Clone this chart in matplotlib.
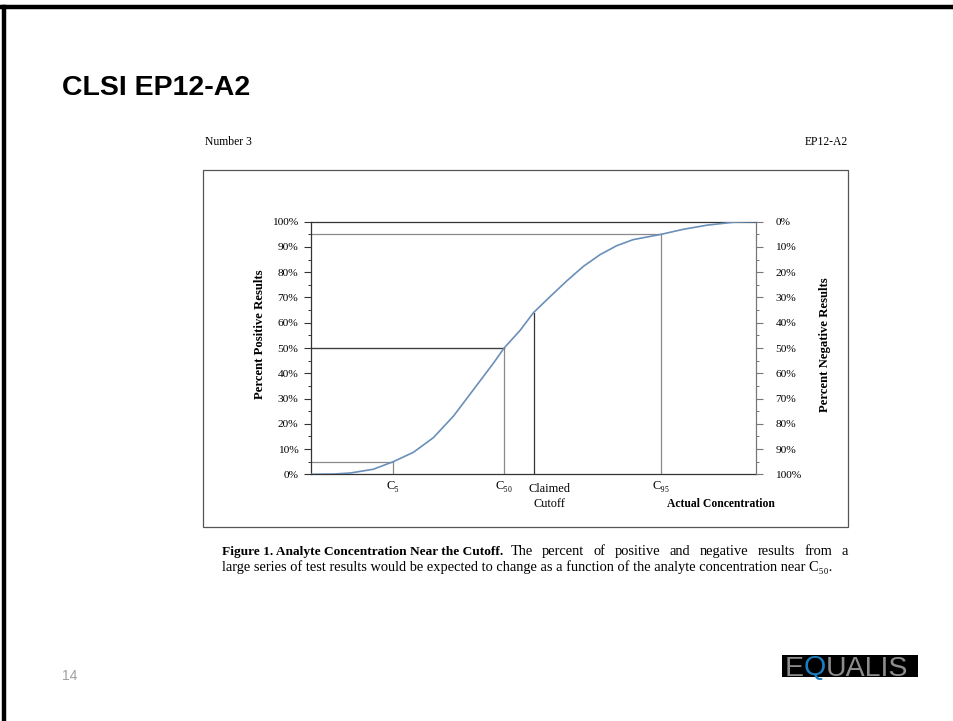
import matplotlib
matplotlib.use('Agg')
import matplotlib.pyplot as plt
from matplotlib.patches import Rectangle
from matplotlib.lines import Line2D
from matplotlib.ticker import MultipleLocator

# dose-response curve read along the concentration axis (0-100 arbitrary units)
conc = [0, 5.0, 8.8, 14.0, 18.5, 23.0, 27.5, 32.0, 36.5, 41.0, 43.4, 47.0, 50.0,
        53.7, 57.5, 61.2, 65.0, 68.7, 72.4, 78.7, 83.7, 88.9, 94.9, 100]
pct_pos = [0, 0.1, 0.5, 2, 5, 8.7, 14.5, 23, 33.5, 44, 50, 57, 64,
           70.3, 76.6, 82.3, 87.0, 90.5, 92.9, 95, 97, 98.6, 99.8, 100]

# marked concentrations and their percent positive
c_names = ['C₅', 'C₅₀', 'C₉₅']
c_conc = [18.5, 43.4, 78.7]
c_pct = [5, 50, 95]
cutoff_conc = 50.0
cutoff_pct = 64

pct_ticks = list(range(0, 101, 10))
left_labels = [f'{v}%' for v in pct_ticks]
right_labels = [f'{100 - v}%' for v in pct_ticks]

SERIF = ['Liberation Serif', 'DejaVu Serif']
SANS = ['Liberation Sans', 'DejaVu Sans']

W, H = 954, 721
fig = plt.figure(figsize=(W / 100, H / 100), dpi=100)


def fx(x):
    return x / W


def fy(y):
    return 1 - y / H


# slide frame (top + left edge)
fig.add_artist(Line2D([0, 1], [fy(7), fy(7)], color='black', lw=3.2))
fig.add_artist(Line2D([fx(4), fx(4)], [0, fy(7)], color='black', lw=3.2))

fig.text(fx(62), fy(88), 'CLSI EP12-A2', family=SANS, weight='bold',
         fontsize=20.5, va='center', ha='left')
fig.text(fx(62), fy(676), '14', family=SANS, fontsize=10, color='#a0a0a0',
         va='center', ha='left')

# scanned page header + figure frame
fig.text(fx(205), fy(142), 'Number 3', family=SERIF, fontsize=8.4, va='center')
fig.text(fx(848), fy(142), 'EP12-A2', family=SERIF, fontsize=8.4, va='center', ha='right')
fig.add_artist(Rectangle((fx(203), fy(527)), fx(848 - 203), (527 - 170) / H,
                         fill=False, ec='#555555', lw=0.9))

ax = fig.add_axes([fx(311), fy(474.3), fx(756 - 311), (474.3 - 221.7) / H])
ax.set_xlim(0, 100)
ax.set_ylim(0, 100)

ax.plot(conc, pct_pos, color='#6a8fb8', lw=1.2, zorder=3)
for c, p in zip(c_conc, c_pct):
    ax.plot([0, c], [p, p], color='#8a8a8a', lw=0.9, zorder=2)
    ax.plot([c, c], [0, p], color='#8a8a8a', lw=0.9, zorder=2)
ax.plot([0, c_conc[1]], [c_pct[1], c_pct[1]], color='#404040', lw=0.9, zorder=2)
ax.plot([cutoff_conc, cutoff_conc], [0, cutoff_pct], color='#333333', lw=0.9, zorder=2)

for s in ['left', 'top', 'bottom']:
    ax.spines[s].set_color('#333333')
    ax.spines[s].set_linewidth(0.9)
ax.spines['right'].set_color('#777777')

ax.set_yticks(pct_ticks)
ax.set_yticklabels(left_labels, family=SERIF, fontsize=8.2)
ax.yaxis.set_minor_locator(MultipleLocator(5))
ax.tick_params(axis='y', which='major', length=5, width=0.8, color='#333333', pad=4)
ax.tick_params(axis='y', which='minor', length=2.4, width=0.7, color='#333333')

ax.set_xticks(c_conc)
ax.set_xticklabels(c_names, family=SERIF, fontsize=9)
ax.tick_params(axis='x', length=0, pad=4)

ax.set_ylabel('Percent Positive Results', family=SERIF, weight='bold', fontsize=9.2)
ax.yaxis.set_label_coords(-0.101, 0.555)

ax2 = ax.twinx()
ax2.set_ylim(0, 100)
ax2.set_yticks(pct_ticks)
ax2.set_yticklabels(right_labels, family=SERIF, fontsize=8.2)
ax2.yaxis.set_minor_locator(MultipleLocator(5))
ax2.tick_params(axis='y', which='major', length=5, width=0.8, color='#777777', pad=9)
ax2.tick_params(axis='y', which='minor', length=2.4, width=0.7, color='#777777')
for s in ['left', 'top', 'bottom']:
    ax2.spines[s].set_visible(False)
ax2.spines['right'].set_color('#777777')
ax2.set_ylabel('Percent Negative Results', family=SERIF, weight='bold', fontsize=9.2)
ax2.yaxis.set_label_coords(1.142, 0.512)

ax.text(cutoff_conc + 3.5, -3.5, 'Claimed\nCutoff', family=SERIF, fontsize=8.8,
        ha='center', va='top', linespacing=1.3)
ax.text(104.2, -9.5, 'Actual Concentration', family=SERIF, weight='bold',
        fontsize=8.4, ha='right', va='top')

fig.canvas.draw()
renderer = fig.canvas.get_renderer()

# figure caption under the frame, first line justified
bold = fig.text(fx(222), fy(555), 'Figure 1. Analyte Concentration Near the Cutoff.',
                family=SERIF, weight='bold', fontsize=9.6, va='baseline', ha='left')
x_start = 222 + bold.get_window_extent(renderer).width + 7
words = 'The percent of positive and negative results from a'.split()
pieces = [fig.text(0, fy(555), w, family=SERIF, fontsize=10.4, va='baseline', ha='left')
          for w in words]
widths = [p.get_window_extent(renderer).width for p in pieces]
gap = (848 - x_start - sum(widths)) / (len(words) - 1)
xw = x_start
for p, w in zip(pieces, widths):
    p.set_x(fx(xw))
    xw += w + gap
fig.text(fx(222), fy(571), 'large series of test results would be expected to change '
         'as a function of the analyte concentration near C₅₀.',
         family=SERIF, fontsize=10.4, va='baseline', ha='left')

# EQUALIS logo
fig.add_artist(Rectangle((fx(782), fy(677)), fx(918 - 782), 22 / H,
                         color='black', lw=0))
x0 = 785
for part, col in [('E', '#8c8c8c'), ('Q', '#1a7dbf'), ('UALIS', '#8c8c8c')]:
    t = fig.text(fx(x0), fy(675.5), part, family=SANS, fontsize=20.5, color=col,
                 va='baseline', ha='left')
    x0 += t.get_window_extent(renderer).width

fig.savefig('out.png', dpi=100)
